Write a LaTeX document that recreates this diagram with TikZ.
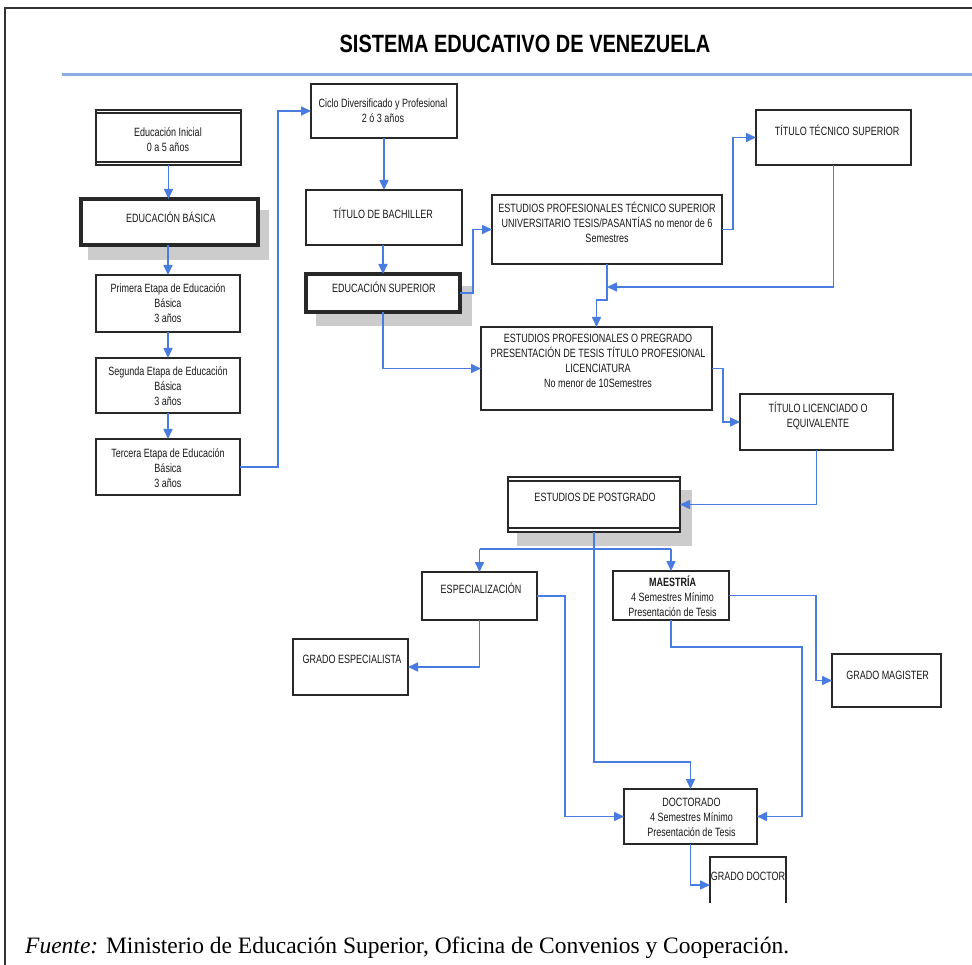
\documentclass[tikz,border=0pt]{standalone}
\usepackage{fontspec}
\usetikzlibrary{arrows.meta,calc}
\newfontfamily\bxfont[FakeStretch=0.75]{Liberation Sans}
\newfontfamily\ttlfont[FakeStretch=0.80]{Liberation Sans}
\newfontfamily\ftfont{Liberation Serif}
\definecolor{ablue}{RGB}{72,124,222}
\definecolor{lblue}{RGB}{140,172,226}
\definecolor{shgray}{RGB}{204,204,204}
\definecolor{bxline}{RGB}{40,40,40}
\begin{document}
\begin{tikzpicture}[x=1pt,y=-1pt,
  box/.style={draw=bxline,line width=1.6pt,fill=white,inner sep=0pt,outer sep=0pt},
  tbox/.style={box,line width=3.2pt},
  txt/.style={font=\bxfont\fontsize{12}{15}\selectfont,align=center,inner sep=0pt,text=black!90},
  arr/.style={draw=ablue,line width=1.6pt,-{Triangle[length=10pt,width=9pt]}},
  ln/.style={draw=ablue,line width=1.6pt},
  shadow/.style={fill=shgray,draw=none}]
\useasboundingbox (0,0) rectangle (972,965);
\fill[white] (0,0) rectangle (972,965);
% frame
\draw[line width=1.4pt,black!80] (5,965) -- (5,8) -- (972,8);
% title
\node[font=\ttlfont\bfseries\fontsize{25}{28}\selectfont] (title) at (525,44) {SISTEMA EDUCATIVO DE VENEZUELA};
\draw[lblue,line width=3pt] (62,75) -- (972,75);
% shadows
\fill[shadow] (88,210) rectangle (269,260);
\fill[shadow] (316,286) rectangle (472,326);
\fill[shadow] (517,490) rectangle (692,546);
% boxes
\node[box,minimum width=145pt,minimum height=55pt] (ini) at (168.5,137.5) {};
\draw[bxline,line width=1.2pt] ([yshift=-3pt]ini.north west) -- ([yshift=-3pt]ini.north east)
  ([yshift=3pt]ini.south west) -- ([yshift=3pt]ini.south east);
\node[tbox,minimum width=177pt,minimum height=46pt] (bas) at (169.5,222) {};
\node[box,minimum width=144pt,minimum height=57pt] (pri) at (168,303.5) {};
\node[box,minimum width=144pt,minimum height=55pt] (seg) at (168,385.5) {};
\node[box,minimum width=144pt,minimum height=56pt] (ter) at (168,467) {};
\node[box,minimum width=146pt,minimum height=54pt] (cic) at (384,111) {};
\node[box,minimum width=156pt,minimum height=55pt] (bac) at (384,217.5) {};
\node[tbox,minimum width=154pt,minimum height=38pt] (sup) at (383,293) {};
\node[box,minimum width=230pt,minimum height=69pt] (tec) at (607,229.5) {};
\node[box,minimum width=155pt,minimum height=55pt] (tts) at (833.5,137.5) {};
\node[box,minimum width=231pt,minimum height=83pt] (pre) at (596.5,368.5) {};
\node[box,minimum width=153pt,minimum height=56pt] (lic) at (816.5,422) {};
\node[box,line width=2.4pt,minimum width=172pt,minimum height=55pt] (pos) at (594,504.5) {};
\draw[bxline,line width=1.2pt] ([yshift=-4pt]pos.north west) -- ([yshift=-4pt]pos.north east)
  ([yshift=4pt]pos.south west) -- ([yshift=4pt]pos.south east);
\node[box,minimum width=115pt,minimum height=48pt] (esp) at (479.5,596) {};
\node[box,minimum width=115pt,minimum height=56pt] (ges) at (350.5,667) {};
\node[box,minimum width=116pt,minimum height=49pt] (mae) at (671,595.5) {};
\node[box,minimum width=109pt,minimum height=53pt] (mag) at (886.5,680.5) {};
\node[box,minimum width=133pt,minimum height=55pt] (doc) at (690.5,816.5) {};
\node[inner sep=0pt,outer sep=0pt,minimum width=76pt,minimum height=46pt] (gdo) at (748,880) {};
\draw[bxline,line width=1.6pt] (gdo.south west) -- (gdo.north west) -- (gdo.north east) -- (gdo.south east);
% texts
\node[txt] (tini) at (168,139.5) {Educación Inicial\\0 a 5 años};
\node[txt] (tbas) at (171,217) {EDUCACIÓN BÁSICA};
\node[txt] (tpri) at (168,303.5) {Primera Etapa de Educación\\Básica\\3 años};
\node[txt] (tseg) at (168,386) {Segunda Etapa de Educación\\Básica\\3 años};
\node[txt] (tter) at (168,468) {Tercera Etapa de Educación\\Básica\\3 años};
\node[txt] (tcic) at (383,111) {Ciclo Diversificado y Profesional\\2 ó 3 años};
\node[txt] (tbac) at (383,213) {TÍTULO DE BACHILLER};
\node[txt] (tsup) at (384,287) {EDUCACIÓN SUPERIOR};
\node[txt] (ttec) at (607,222) {ESTUDIOS PROFESIONALES TÉCNICO SUPERIOR\\UNIVERSITARIO TESIS/PASANTÍAS no menor de 6\\Semestres};
\node[txt] (ttts) at (837,130) {TÍTULO TÉCNICO SUPERIOR};
\node[txt] (tpre) at (598,360.5) {ESTUDIOS PROFESIONALES O PREGRADO\\PRESENTACIÓN DE TESIS TÍTULO PROFESIONAL\\LICENCIATURA\\No menor de 10Semestres};
\node[txt] (tlic) at (818,415.5) {TÍTULO LICENCIADO O\\EQUIVALENTE};
\node[txt] (tpos) at (595,497) {ESTUDIOS DE POSTGRADO};
\node[txt] (tesp) at (481,588) {ESPECIALIZACIÓN};
\node[txt] (tges) at (352,659) {GRADO ESPECIALISTA};
\node[txt] (tmae) at (672.5,596.5) {\bfseries MAESTRÍA\\4 Semestres Mínimo\\Presentación de Tesis};
\node[txt] (tmag) at (887.5,675) {GRADO MAGISTER};
\node[txt] (tdoc) at (691.5,817.5) {DOCTORADO\\4 Semestres Mínimo\\Presentación de Tesis};
\node[txt] (tgdo) at (748,876) {GRADO DOCTOR};
% connectors
\draw[arr] (ini.south) -- (ini.south |- bas.north);
\draw[arr] (bas.south -| pri.north) -- (pri.north);
\draw[arr] (pri.south) -- (seg.north);
\draw[arr] (seg.south) -- (ter.north);
\draw[arr] (ter.east) -| ([xshift=-33pt]cic.west) -- (cic.west);
\draw[arr] (cic.south) -- (bac.north);
\draw[arr] (bac.south -| sup.north) -- (sup.north);
\draw[arr] (sup.east) -| ([xshift=-19pt]tec.west) -- (tec.west);
\draw[arr] (sup.south) |- (pre.west);
\draw[arr] (tec.east) -| ([xshift=-23pt]tts.west) -- (tts.west);
\draw[arr] (tec.south) |- ([yshift=27pt]pre.north) -- (pre.north);
\coordinate (m1) at (607,287);
\draw[arr] (tts.south) |- (m1);
\draw[arr] (pre.east) -- ([xshift=11pt]pre.east) |- (lic.west);
\draw[arr] (lic.south) |- (pos.east);
\draw[arr] (pos.south) |- ([yshift=27pt]doc.north) -- (doc.north);
\coordinate (b1) at (479.5,549);
\coordinate (b2) at (671,549);
\draw[ln] (b1) -- (b2);
\draw[arr] (b1) -- (esp.north);
\draw[arr] (b2) -- (mae.north);
\draw[arr] (esp.east) -| ([xshift=-59pt]doc.west) -- (doc.west);
\draw[arr] (esp.south) |- (ges.east);
\draw[arr] (mae.east) -| ([xshift=-16pt]mag.west) -- (mag.west);
\coordinate (m2) at (802,647);
\draw[arr] (mae.south) |- (m2) |- (doc.east);
\draw[arr] (doc.south) |- ([yshift=-5pt]gdo.west);
% footer
\node[anchor=base west,inner sep=0pt,font=\ftfont\fontsize{23.5}{26}\selectfont] (foot) at (25,953) {\textit{Fuente:} Ministerio de Educación Superior, Oficina de Convenios y Cooperación.};
\end{tikzpicture}
\end{document}
